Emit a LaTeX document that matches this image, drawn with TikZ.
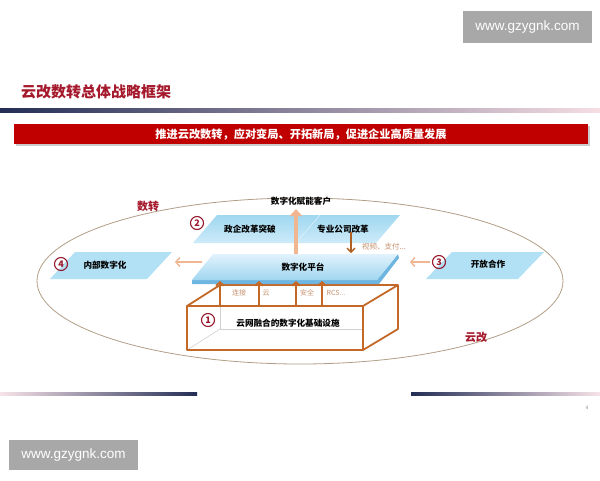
\documentclass[tikz,border=0pt]{standalone}
\usepackage{fontspec}
\setmainfont{Noto Sans CJK SC}
\newfontfamily\latinfont{Liberation Sans}
\usetikzlibrary{arrows.meta}
\definecolor{titlered}{RGB}{165,25,45}
\definecolor{bannerred}{RGB}{192,0,0}
\definecolor{navy}{RGB}{35,45,85}
\definecolor{midgrey}{RGB}{140,135,160}
\definecolor{pinkf}{RGB}{240,200,210}
\definecolor{wmgrey}{RGB}{168,168,168}
\definecolor{skyb}{RGB}{160,215,240}
\definecolor{skym}{RGB}{178,224,244}
\definecolor{skyl}{RGB}{225,242,252}
\definecolor{skyp}{RGB}{205,235,249}
\definecolor{skyd}{RGB}{110,182,224}
\definecolor{boxor}{RGB}{196,104,40}
\definecolor{darkor}{RGB}{175,95,35}
\definecolor{lightor}{RGB}{240,182,145}
\definecolor{labbrown}{RGB}{200,145,110}
\definecolor{elcol}{RGB}{178,158,135}
\definecolor{numred}{RGB}{150,25,45}
\begin{document}
\begin{tikzpicture}[x=1pt,y=-1pt,
  every node/.style={inner sep=0pt},
  lbl/.style={font=\bfseries\fontsize{8.6}{9}\selectfont, text=black},
  smalllbl/.style={font=\fontsize{7}{8}\selectfont, text=labbrown},
  num/.style={circle, draw=numred, line width=1.1pt, text=numred, minimum size=13pt, inner sep=0pt, font=\bfseries\fontsize{9}{9}\selectfont},
  boxline/.style={draw=boxor, line width=1.8pt, line join=round},
  hiddenline/.style={draw=black!18, line width=0.6pt},
  uparr/.style={draw=boxor, line width=1.8pt, -{Straight Barb[length=3.5pt,width=8pt]}},
  palearr/.style={draw=lightor, line width=1.4pt, -{Straight Barb[length=4pt,width=9pt]}},
  downarr/.style={draw=darkor, line width=1.3pt, -{Straight Barb[length=4pt,width=8pt]}},
  bigarr/.style={draw=lightor, line width=4.5pt, -{Triangle[length=7pt,width=12pt]}},
  wm/.style={fill=wmgrey, text=white, font=\latinfont\fontsize{13.5}{14}\selectfont, minimum width=129pt, minimum height=32pt},
  regionlbl/.style={font=\bfseries\fontsize{11}{12}\selectfont, text=titlered},
]
\useasboundingbox (0,0) rectangle (600,480);
\fill[white] (0,0) rectangle (600,480);

% watermarks
\node[wm] (wmtop) at (527.5,27) {www.gzygnk.com};
\node[wm, minimum height=30pt] (wmbot) at (73.5,455) {www.gzygnk.com};

% title
\node[anchor=west, font=\bfseries\fontsize{15}{16}\selectfont, text=titlered] (title) at (21,92) {云改数转总体战略框架};
\shade[left color=navy, middle color=midgrey, right color=pinkf!60!white] (0,108) rectangle (600,112);

% banner
\fill[black!20] (16,126) rectangle (590,146);
\fill[bannerred] (14,124) rectangle (588,144);
\node[font=\bfseries\fontsize{11.2}{12}\selectfont, text=white] (banner) at (301,134.5) {推进云改数转，应对变局、开拓新局，促进企业高质量发展};

% bottom lines and page number
\shade[left color=pinkf!50!white, right color=navy] (0,392) rectangle (197,395);
\shade[left color=navy, right color=pinkf!50!white] (411,392) rectangle (600,395);
\node[font=\latinfont\fontsize{5}{6}\selectfont, text=black!45] (pagenum) at (587,408) {4};

% ellipse
\draw[elcol, line width=0.8pt] (300,281) ellipse [x radius=263, y radius=83];
\node[regionlbl] (shuzhuan) at (148,206) {数转};
\node[regionlbl] (yungai) at (476,337) {云改};

% box (infrastructure)
\draw[hiddenline] (220,306) -- (220,329) -- (363,329);
\draw[hiddenline] (187,350) -- (220,329);
\draw[boxline] (187,306) rectangle (363,350);
\draw[boxline] (187,306) -- (220,285) -- (398,285) -- (398,329) -- (363,350);
\draw[boxline] (363,306) -- (398,285);
\node[num] (n1) at (208,320) {1};
\node[lbl] (infra) at (288,323) {云网融合的数字化基础设施};

% platform
\fill[skyd] (192,280) -- (377,280) -- (398,254) -- (399,258) -- (379,284) -- (192,284) -- cycle;
\shade[top color=skyl, bottom color=skyb] (192,280) -- (377,280) -- (398,254) -- (213,254) -- cycle;
\node[lbl] (plat) at (303,267) {数字化平台};

% upper parallelograms
\shade[top color=skyb, bottom color=skyp] (193,243) -- (296,243) -- (320,215) -- (217,215) -- cycle;
\shade[top color=skyb, bottom color=skyp] (296,243) -- (376,243) -- (400,215) -- (320,215) -- cycle;
\draw[white!70!skyb, line width=0.4pt] (296,243) -- (320,215);
\node[lbl] (zq) at (250,229) {政企改革突破};
\node[lbl] (zy) at (343,229) {专业公司改革};
\node[num] (n2) at (197,223) {2};

% side parallelograms
\fill[skym] (50,279) -- (147,279) -- (172,252) -- (75,252) -- cycle;
\node[lbl] (nb) at (105,265) {内部数字化};
\node[num] (n4) at (61,264) {4};
\fill[skym] (426,279) -- (518,279) -- (544,252) -- (452,252) -- cycle;
\node[lbl] (kf) at (488,264) {开放合作};
\node[num] (n3) at (439,262) {3};

% connectors
\coordinate (platN) at (296,254);
\node[lbl] (client) at (301,201) {数字化赋能客户};
\draw[bigarr] (platN) -- (296,209) coordinate (clientS);

\coordinate (platW) at (202,262);
\coordinate (nbE) at (175,262);
\draw[palearr] (platW) -- (nbE);

\coordinate (platE) at (410,262);
\coordinate (n3w) at (430,262);
\draw[palearr] (n3w) -- (platE);

\coordinate (zyS) at (351,232);
\coordinate (platT) at (351,253);
\draw[downarr] (zyS) -- (platT);
\node[smalllbl, font=\fontsize{7.5}{8}\selectfont, anchor=west] (vid) at (362,247) {视频、支付...};

\foreach \x/\nm in {220/a,259/b,296/c,322/d}{
  \coordinate (bt\nm) at (\x,306);
  \coordinate (pb\nm) at (\x,281);
  \draw[uparr] (bt\nm) -- (pb\nm);
}
\node[smalllbl] (l1) at (239,293) {连接};
\node[smalllbl] (l2) at (266,293) {云};
\node[smalllbl] (l3) at (307,293) {安全};
\node[smalllbl] (l4) at (336,293) {RCS...};
\end{tikzpicture}
\end{document}
